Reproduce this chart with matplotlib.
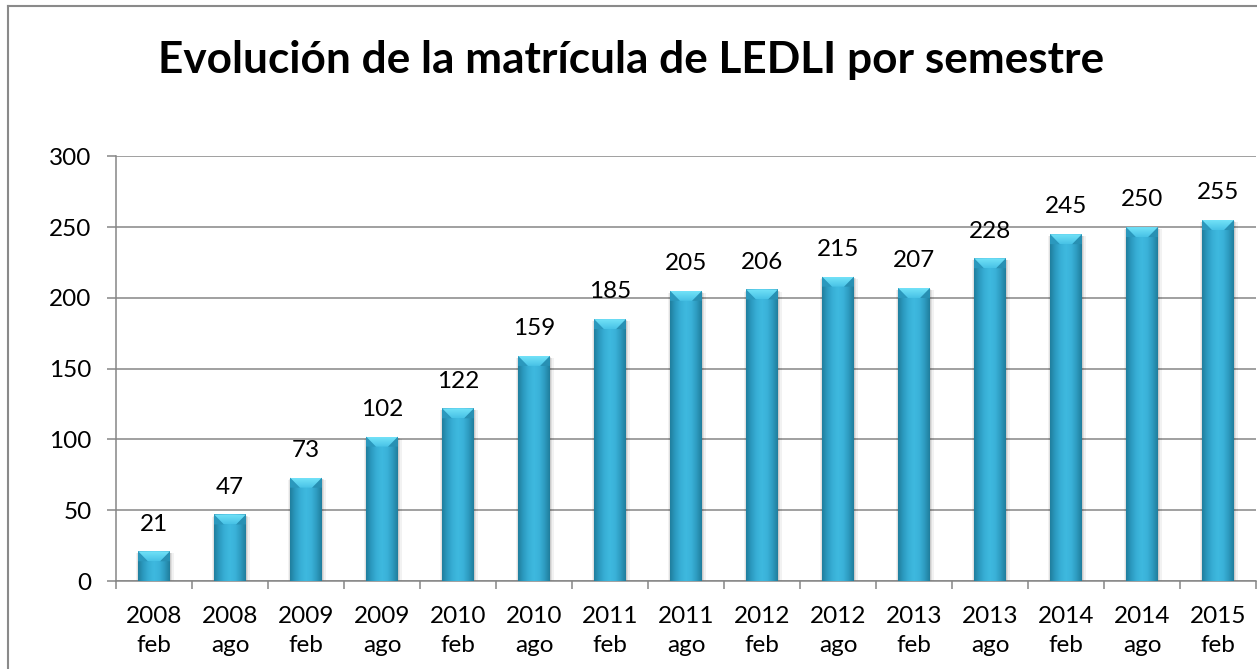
import numpy as np
import matplotlib
matplotlib.use("Agg")
import matplotlib.pyplot as plt
from matplotlib.patches import Polygon, Rectangle
from matplotlib.lines import Line2D
from matplotlib.colors import LinearSegmentedColormap
from matplotlib.transforms import IdentityTransform

# ---- data ----
years = ["2008", "2008", "2009", "2009", "2010", "2010", "2011", "2011",
         "2012", "2012", "2013", "2013", "2014", "2014", "2015"]
terms = ["feb", "ago", "feb", "ago", "feb", "ago", "feb", "ago",
         "feb", "ago", "feb", "ago", "feb", "ago", "feb"]
values = [21, 47, 73, 102, 122, 159, 185, 205, 206, 215, 207, 228, 245, 250, 255]
title = "Evolución de la matrícula de LEDLI por semestre"
yticks = [0, 50, 100, 150, 200, 250, 300]

plt.rcParams['font.family'] = ['Lato', 'DejaVu Sans']

W, H = 1257, 669
fig = plt.figure(figsize=(W / 100, H / 100), dpi=100)
fig.patch.set_facecolor("white")

ax = fig.add_axes([116 / W, 1 - 581 / H, (1256 - 116) / W, (581 - 156.3) / H])
n = len(values)
x = np.arange(n)
ax.set_xlim(-0.5, n - 0.5)
ax.set_ylim(0, 300)

gray = "#868686"
ax.set_yticks(yticks)
ax.yaxis.grid(True, color=gray, linewidth=1.1)
ax.set_axisbelow(True)
for s in ["top", "right"]:
    ax.spines[s].set_visible(False)
for s in ["left", "bottom"]:
    ax.spines[s].set_color(gray)
    ax.spines[s].set_linewidth(1.1)

fs = 17.5
ax.tick_params(axis="y", length=6.5, width=1.1, color=gray, pad=11, labelsize=fs)
ax.set_xticks(x)
ax.set_xticklabels([f"{y}\n{t}" for y, t in zip(years, terms)], fontsize=fs,
                   linespacing=1.5)
ax.tick_params(axis="x", which="major", length=0, pad=18)
ax.set_xticks(np.arange(n + 1) - 0.5, minor=True)
ax.tick_params(axis="x", which="minor", length=6, width=1.1, color=gray)

bw = 0.42
bars = ax.bar(x, values, width=bw, color="#38b0d7", zorder=3, linewidth=0)

body_cmap = LinearSegmentedColormap.from_list(
    "body", ["#207f9e", "#2c9bc1", "#38afd6", "#3eb9df", "#3ab2d9", "#2e9cc1", "#207e9d"])
grad = np.linspace(0, 1, 64).reshape(1, -1)
top_cmap = LinearSegmentedColormap.from_list("top", ["#48c2e6", "#72e2f8"])
vgrad = np.linspace(0, 1, 32).reshape(-1, 1)

fig.canvas.draw()
for b, v in zip(bars, values):
    x0, y0 = b.get_x(), b.get_y()
    w, h = b.get_width(), b.get_height()
    (px0, py0) = ax.transData.transform((x0, y0))
    (px1, py1) = ax.transData.transform((x0 + w, y0 + h))
    # soft shadow
    for k, a in [(4, 0.05), (2.5, 0.07), (1.2, 0.09)]:
        sh = Rectangle((px0 - k * 0.4, py0 - k * 0.3), px1 - px0 + k * 1.4, py1 - py0 - 1,
                       transform=IdentityTransform(), facecolor="#000000",
                       alpha=a, linewidth=0, zorder=2.5)
        ax.add_artist(sh)
    im = ax.imshow(grad, cmap=body_cmap, aspect="auto",
                   extent=(x0, x0 + w, y0, y0 + h), zorder=3.5,
                   interpolation="bilinear")
    im.set_clip_path(b)
    # top bevel (pixel geometry)
    d = min(10.0, (py1 - py0) * 0.5)
    top = Polygon([(px0, py1), (px1, py1), (px1 - d, py1 - d), (px0 + d, py1 - d)],
                  closed=True, transform=IdentityTransform(), facecolor="none",
                  edgecolor="none", zorder=4)
    ax.add_artist(top)
    dx0, dy0 = ax.transData.inverted().transform((px0, py1 - d))
    dx1, dy1 = ax.transData.inverted().transform((px1, py1))
    tim = ax.imshow(vgrad, cmap=top_cmap, aspect="auto", origin="lower",
                    extent=(dx0, dx1, dy0, dy1), zorder=4.2,
                    interpolation="bilinear")
    tim.set_clip_path(top)
    left = Polygon([(px0, py1), (px0 + d, py1 - d), (px0, py1 - d)],
                   closed=True, transform=IdentityTransform(), facecolor="#2b98bd",
                   edgecolor="none", zorder=4)
    right = Polygon([(px1, py1), (px1 - d, py1 - d), (px1, py1 - d)],
                    closed=True, transform=IdentityTransform(), facecolor="#2890b3",
                    edgecolor="none", zorder=4)
    ax.add_artist(left)
    ax.add_artist(right)
    ax.annotate(str(v), (x0 + w / 2, y0 + h), xytext=(0, 12),
                textcoords="offset points", ha="center", va="bottom",
                fontsize=fs, color="black", zorder=5)

ax.set_xlim(-0.5, n - 0.5)
ax.set_ylim(0, 300)

# title, scaled to target width
t = fig.text(631 / W, 1 - 73 / H, title, ha="center", va="baseline",
             fontsize=32, fontweight="bold", color="black")
fig.canvas.draw()
bb = t.get_window_extent()
t.set_fontsize(32 * 948 / bb.width)

# chart border (left and top visible)
fig.add_artist(Line2D([8 / W, 8 / W], [-0.05, 1 - 6 / H], color="#8a8a8a",
                      linewidth=1.5, transform=fig.transFigure))
fig.add_artist(Line2D([8 / W, 1.05], [1 - 6 / H, 1 - 6 / H], color="#8a8a8a",
                      linewidth=1.5, transform=fig.transFigure))

fig.savefig("out.png", dpi=100, facecolor="white")
